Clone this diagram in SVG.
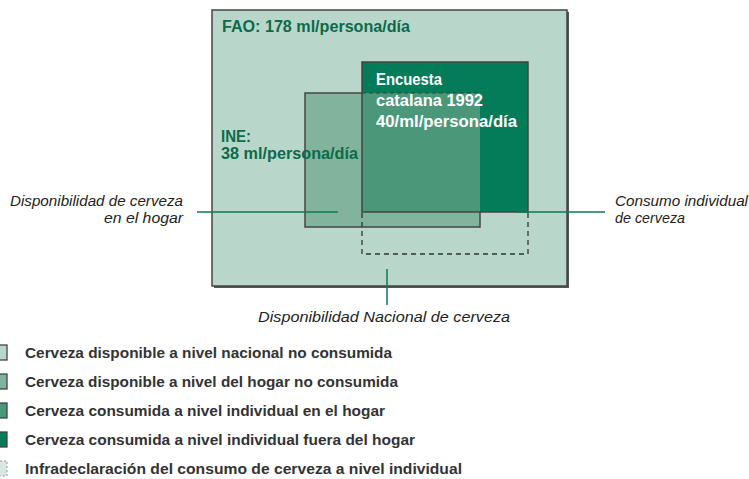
<svg xmlns="http://www.w3.org/2000/svg" width="749" height="479" viewBox="0 0 749 479">
<style>
.g{font-family:"Liberation Sans",Arial,sans-serif;font-weight:bold;font-size:16px;fill:#0b6b4b}
.w{font-family:"Liberation Sans",Arial,sans-serif;font-weight:bold;font-size:16px;fill:#ffffff}
.it{font-family:"Liberation Sans",Arial,sans-serif;font-style:italic;font-size:15px;fill:#222}
.lg{font-family:"Liberation Sans",Arial,sans-serif;font-weight:bold;font-size:15px;fill:#333}
.box{stroke:#444;stroke-width:1.5}
.dash{fill:none;stroke:#333;stroke-width:1.3;stroke-dasharray:5,4}
.con{stroke:#0b7a55;stroke-width:1.5;fill:none}
</style>
<rect width="749" height="479" fill="#ffffff"/>
<g id="nacional">
<rect x="214" y="12" width="355" height="276" fill="#555"/>
<rect x="212" y="10" width="355" height="276" fill="#b9d6ca" class="box"/>
<text class="g" x="222" y="32" textLength="188" lengthAdjust="spacingAndGlyphs">FAO: 178 ml/persona/día</text>
</g>
<g id="hogar">
<rect x="305" y="93" width="175" height="134" fill="#82b49d" class="box"/>
</g>
<g id="individual">
<rect x="362" y="62" width="166" height="150" fill="#047b59"/>
<rect x="362" y="93" width="118" height="119" fill="#4b9779"/>
<line x1="362" y1="93" x2="480" y2="93" stroke="#2a4a3a" stroke-width="1" stroke-dasharray="4,3"/>
<rect x="362" y="62" width="166" height="150" fill="none" class="box"/>
<text class="w" x="376" y="85" textLength="66" lengthAdjust="spacingAndGlyphs">Encuesta</text>
<text class="w" x="376" y="106" textLength="107" lengthAdjust="spacingAndGlyphs">catalana 1992</text>
<text class="w" x="376" y="127" textLength="141" lengthAdjust="spacingAndGlyphs">40/ml/persona/día</text>
</g>
<g id="ine">
<text class="g" x="221" y="142" textLength="30" lengthAdjust="spacingAndGlyphs">INE:</text>
<text class="g" x="221" y="159" textLength="137" lengthAdjust="spacingAndGlyphs">38 ml/persona/día</text>
</g>
<g id="infradeclaracion">
<path class="dash" d="M362,213 V254 H528 V213"/>
</g>
<g id="connectors">
<line class="con" x1="197" y1="212" x2="338" y2="212"/>
<line class="con" x1="518" y1="212" x2="605" y2="212"/>
<line class="con" x1="387" y1="269" x2="387" y2="305"/>
</g>
<g id="labels">
<text class="it" text-anchor="end" x="183" y="206" textLength="173" lengthAdjust="spacingAndGlyphs">Disponibilidad de cerveza</text>
<text class="it" text-anchor="end" x="183" y="223" textLength="79" lengthAdjust="spacingAndGlyphs">en el hogar</text>
<text class="it" x="615" y="206" textLength="133" lengthAdjust="spacingAndGlyphs">Consumo individual</text>
<text class="it" x="615" y="223" textLength="70" lengthAdjust="spacingAndGlyphs">de cerveza</text>
<text class="it" x="258" y="322" textLength="252" lengthAdjust="spacingAndGlyphs">Disponibilidad Nacional de cerveza</text>
</g>
<g id="legend">
<rect x="-4" y="345" width="11" height="15" fill="#b9d6ca" stroke="#444" stroke-width="1.3"/>
<rect x="-4" y="374" width="11" height="15" fill="#82b49d" stroke="#444" stroke-width="1.3"/>
<rect x="-4" y="403" width="11" height="15" fill="#4b9779" stroke="#444" stroke-width="1.3"/>
<rect x="-4" y="432" width="11" height="15" fill="#047b59" stroke="#444" stroke-width="1.3"/>
<rect x="-4" y="461" width="11" height="15" fill="#d7e8e0" stroke="#999" stroke-width="1" stroke-dasharray="2,2"/>
<text class="lg" x="25" y="358" textLength="367" lengthAdjust="spacingAndGlyphs">Cerveza disponible a nivel nacional no consumida</text>
<text class="lg" x="25" y="387" textLength="373" lengthAdjust="spacingAndGlyphs">Cerveza disponible a nivel del hogar no consumida</text>
<text class="lg" x="25" y="416" textLength="360" lengthAdjust="spacingAndGlyphs">Cerveza consumida a nivel individual en el hogar</text>
<text class="lg" x="25" y="445" textLength="390" lengthAdjust="spacingAndGlyphs">Cerveza consumida a nivel individual fuera del hogar</text>
<text class="lg" x="25" y="474" textLength="437" lengthAdjust="spacingAndGlyphs">Infradeclaración del consumo de cerveza a nivel individual</text>
</g>
</svg>
